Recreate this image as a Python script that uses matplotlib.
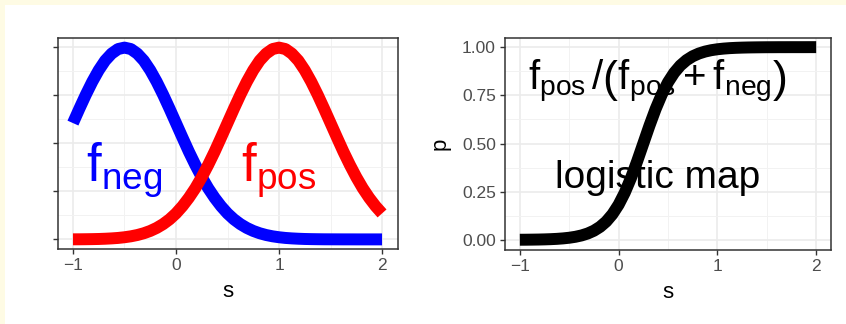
import matplotlib
matplotlib.use('Agg')
import matplotlib.pyplot as plt
from matplotlib.patches import Rectangle

plt.rcParams['font.family'] = ['Liberation Sans', 'DejaVu Sans']
plt.rcParams['mathtext.fontset'] = 'custom'
plt.rcParams['mathtext.rm'] = 'Liberation Sans'
plt.rcParams['mathtext.it'] = 'Liberation Sans:italic'
plt.rcParams['mathtext.bf'] = 'Liberation Sans:bold'

# values, s from -1 to 2 in steps of 0.0625
s = [-1.0, -0.9375, -0.875, -0.8125, -0.75, -0.6875, -0.625, -0.5625,
     -0.5, -0.4375, -0.375, -0.3125, -0.25, -0.1875, -0.125, -0.0625,
     0.0, 0.0625, 0.125, 0.1875, 0.25, 0.3125, 0.375, 0.4375,
     0.5, 0.5625, 0.625, 0.6875, 0.75, 0.8125, 0.875, 0.9375,
     1.0, 1.0625, 1.125, 1.1875, 1.25, 1.3125, 1.375, 1.4375,
     1.5, 1.5625, 1.625, 1.6875, 1.75, 1.8125, 1.875, 1.9375, 2.0]
f_neg = [0.484, 0.544, 0.602, 0.656, 0.704, 0.744, 0.773, 0.792,
         0.798, 0.792, 0.773, 0.744, 0.704, 0.656, 0.602, 0.544,
         0.484, 0.424, 0.365, 0.310, 0.259, 0.213, 0.173, 0.138,
         0.108, 0.0834, 0.0635, 0.0476, 0.0351, 0.0255, 0.0182, 0.0128,
         0.0089, 0.0060, 0.0041, 0.0027, 0.0017, 0.0011, 0.0007, 0.0004,
         0.0003, 0.0002, 0.0001, 0.0001, 0.0, 0.0, 0.0, 0.0, 0.0]
f_pos = [0.0003, 0.0004, 0.0007, 0.0011, 0.0017, 0.0027, 0.0041, 0.0060,
         0.0089, 0.0128, 0.0182, 0.0255, 0.0351, 0.0476, 0.0635, 0.0834,
         0.108, 0.138, 0.173, 0.213, 0.259, 0.310, 0.365, 0.424,
         0.484, 0.544, 0.602, 0.656, 0.704, 0.744, 0.773, 0.792,
         0.798, 0.792, 0.773, 0.744, 0.704, 0.656, 0.602, 0.544,
         0.484, 0.424, 0.365, 0.310, 0.259, 0.213, 0.173, 0.138, 0.108]
p = [0.0006, 0.0008, 0.0012, 0.0017, 0.0025, 0.0036, 0.0052, 0.0076,
     0.0110, 0.0159, 0.0230, 0.0331, 0.0474, 0.0676, 0.0953, 0.1330,
     0.1824, 0.2451, 0.3208, 0.4073, 0.5, 0.5927, 0.6792, 0.7549,
     0.8176, 0.8670, 0.9047, 0.9324, 0.9526, 0.9669, 0.9770, 0.9841,
     0.9890, 0.9924, 0.9948, 0.9964, 0.9975, 0.9983, 0.9988, 0.9992,
     0.9995, 0.9996, 0.9998, 0.9998, 0.9999, 0.9999, 0.9999, 1.0, 1.0]

x_ticks = [-1, 0, 1, 2]
x_minor = [-0.5, 0.5, 1.5]
x_tick_labels = ['\u22121', '0', '1', '2']
left_y_ticks = [0.0, 0.2, 0.4, 0.6, 0.8]
left_y_minor = [0.1, 0.3, 0.5, 0.7]
right_y_ticks = [0.0, 0.25, 0.5, 0.75, 1.0]
right_y_minor = [0.125, 0.375, 0.625, 0.875]
right_y_labels = ['0.00', '0.25', '0.50', '0.75', '1.00']

fig = plt.figure(figsize=(8.46, 3.24), dpi=100)
fig.patch.set_facecolor('white')
# pale yellow strip on top and left edge
fig.patches.append(Rectangle((0, 1 - 5/324), 1, 5/324, transform=fig.transFigure,
                             facecolor='#FEFBE4', edgecolor='none'))
fig.patches.append(Rectangle((0, 0), 5/846, 1, transform=fig.transFigure,
                             facecolor='#FEFBE4', edgecolor='none'))

ax1 = fig.add_axes([57.5/846, 1 - 249/324, 340/846, 211/324])
ax2 = fig.add_axes([505/846, 1 - 249.5/324, 326/846, 212/324])


def style(ax, yt, ym):
    ax.set_xlim(-1.15, 2.15)
    ax.set_xticks(x_ticks)
    ax.set_xticks(x_minor, minor=True)
    ax.set_xticklabels(x_tick_labels)
    ax.set_yticks(yt)
    ax.set_yticks(ym, minor=True)
    ax.grid(which='major', color='#EBEBEB', linewidth=1.2)
    ax.grid(which='minor', color='#F2F2F2', linewidth=0.7)
    ax.set_axisbelow(True)
    for sp in ax.spines.values():
        sp.set_color('#333333')
        sp.set_linewidth(1.1)
    ax.tick_params(which='major', length=3.5, width=1.0, color='#333333',
                   labelcolor='#4D4D4D', labelsize=12.5, pad=3)
    ax.tick_params(which='minor', length=0)
    ax.set_xlabel('s', fontsize=16, labelpad=6)


# left panel: the two densities
ax1.plot(s, f_neg, color='#0000FF', linewidth=8.6, solid_capstyle='butt',
         solid_joinstyle='round')
ax1.plot(s, f_pos, color='#FF0000', linewidth=8.6, solid_capstyle='butt',
         solid_joinstyle='round')
ax1.set_ylim(-0.04, 0.838)
style(ax1, left_y_ticks, left_y_minor)
ax1.set_yticklabels([])
ax1.text(-0.5, 0.29, r'$\mathrm{f}_{\mathrm{neg}}$', color='#0000FF', fontsize=38,
         ha='center', va='center')
ax1.text(1.0, 0.29, r'$\mathrm{f}_{\mathrm{pos}}$', color='#FF0000', fontsize=38,
         ha='center', va='center')

# right panel: the logistic map
ax2.plot(s, p, color='black', linewidth=8.6, solid_capstyle='butt',
         solid_joinstyle='round')
ax2.set_ylim(-0.05, 1.05)
style(ax2, right_y_ticks, right_y_minor)
ax2.set_yticklabels(right_y_labels)
ax2.set_ylabel('p', fontsize=16, labelpad=8)
ax2.text(0.39, 0.82,
         r'$\mathrm{f}_{\mathrm{pos}}\,/\left(\mathrm{f}_{\mathrm{pos}}+\mathrm{f}_{\mathrm{neg}}\right)$',
         color='black', fontsize=29, ha='center', va='center')
ax2.text(0.4, 0.32, 'logistic map', color='black', fontsize=28,
         ha='center', va='center')

fig.savefig('out.png', dpi=100)
